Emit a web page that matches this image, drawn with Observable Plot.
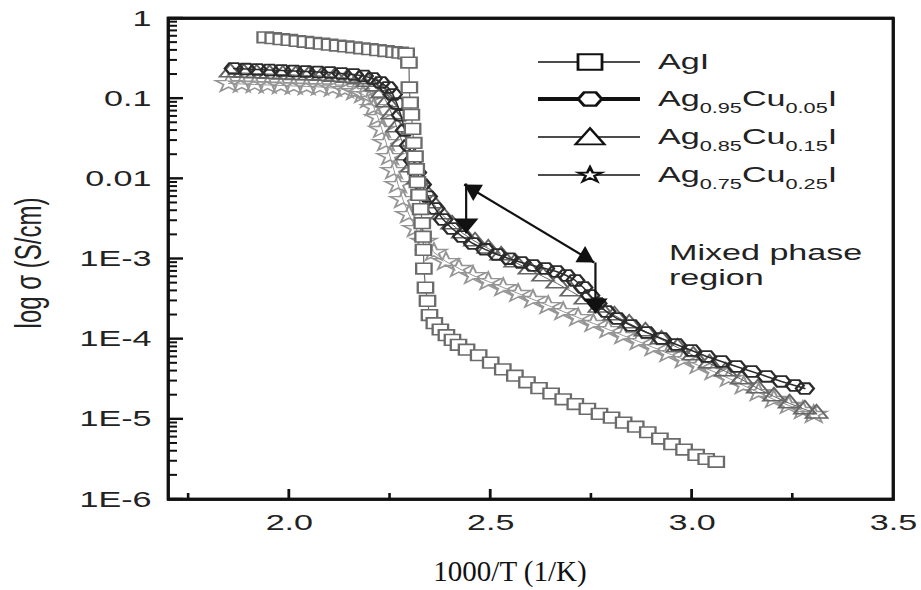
<!DOCTYPE html>
<html>
<head>
<meta charset="utf-8">
<script src="https://cdn.jsdelivr.net/npm/d3@7"></script>
<script src="https://cdn.jsdelivr.net/npm/@observablehq/plot@0.6"></script>
<style>
  html, body { margin: 0; padding: 0; background: #fff; }
  #chart { width: 921px; height: 590px; }
</style>
</head>
<body>
<div id="chart"></div>
<script>
// ---------------- data (x = 1000/T in 1/K, y = sigma in S/cm) ----------------
const seriesNames = ["AgI", "Ag0.95Cu0.05I", "Ag0.85Cu0.15I", "Ag0.75Cu0.25I"];

const agiX = [1.94,1.96,1.98,2.00,2.02,2.04,2.06,2.08,2.10,2.12,2.14,2.16,2.18,2.20,2.22,2.24,2.26,2.275,2.29,
  2.297,2.298,2.300,2.303,2.306,2.309,2.312,2.315,2.318,2.322,2.326,2.330,2.332,2.333,2.334,2.338,2.343,2.348,
  2.36,2.375,2.39,2.405,2.42,2.44,2.47,2.50,2.53,2.56,2.59,2.62,2.65,2.68,2.71,2.74,2.77,2.80,2.83,2.86,2.89,2.92,2.95,2.98,3.01,3.035,3.06];
const agiY = [0.582,0.568,0.552,0.540,0.524,0.512,0.498,0.485,0.472,0.460,0.448,0.437,0.425,0.414,0.403,0.393,0.382,0.374,0.366,
  0.282,0.138,0.089,0.063,0.042,0.028,0.019,0.0132,0.0091,0.0063,0.0042,0.0028,0.0019,0.0013,7.6e-4,4.4e-4,3.0e-4,2.0e-4,
  1.58e-4,1.32e-4,1.12e-4,9.8e-5,8.5e-5,7.4e-5,6.3e-5,5.1e-5,4.2e-5,3.5e-5,2.9e-5,2.45e-5,2.1e-5,1.78e-5,1.55e-5,1.35e-5,1.17e-5,1.05e-5,9.1e-6,8.1e-6,6.9e-6,5.75e-6,4.9e-6,4.2e-6,3.6e-6,3.2e-6,2.95e-6];

const cu05X = [1.862,1.892,1.921,1.951,1.981,2.011,2.041,2.071,2.101,2.130,2.160,2.185,2.207,2.227,2.245,2.257,2.267,2.277,2.287,2.297,
  2.307,2.317,2.329,2.344,2.362,2.382,2.404,2.429,2.456,2.486,2.516,2.546,2.576,2.605,2.635,2.663,2.688,2.710,2.730,2.747,
  2.765,2.787,2.814,2.849,2.887,2.924,2.961,2.999,3.036,3.073,3.110,3.148,3.185,3.222,3.255,3.280];
const cu05Y = [0.238,0.234,0.231,0.228,0.225,0.221,0.218,0.215,0.212,0.206,0.200,0.192,0.179,0.159,0.138,0.113,0.087,0.062,0.040,0.026,
  0.0169,0.0120,0.0085,0.0060,0.00426,0.00311,0.0024,0.00191,0.00156,0.00132,0.00114,0.00101,9.05e-4,8.3e-4,7.62e-4,6.99e-4,6.23e-4,5.4e-4,4.41e-4,3.51e-4,
  2.79e-4,2.21e-4,1.81e-4,1.48e-4,1.21e-4,1.02e-4,8.58e-5,7.23e-5,6.08e-5,5.27e-5,4.56e-5,3.95e-5,3.43e-5,2.97e-5,2.64e-5,2.42e-5];

const cu15X = [1.854,1.887,1.919,1.951,1.984,2.016,2.048,2.081,2.113,2.145,2.173,2.195,2.215,2.230,2.242,2.255,2.267,2.280,2.292,2.304,
  2.319,2.337,2.357,2.379,2.404,2.431,2.461,2.494,2.526,2.561,2.596,2.630,2.665,2.700,2.735,2.770,2.807,2.844,2.884,2.924,
  2.964,3.003,3.043,3.083,3.123,3.163,3.203,3.242,3.280,3.309];
const cu15Y = [0.212,0.209,0.206,0.203,0.200,0.197,0.1945,0.1918,0.1863,0.181,0.1734,0.1614,0.1418,0.116,0.0896,0.0635,0.0437,0.0292,0.01954,0.01386,
  0.00982,0.00695,0.00493,0.00359,0.0027,0.00208,0.00166,0.00135,0.001106,9.05e-4,7.4e-4,6.05e-4,4.95e-4,3.94e-4,3.13e-4,2.48e-4,1.98e-4,1.57e-4,1.25e-4,9.91e-5,
  7.87e-5,6.26e-5,4.98e-5,3.95e-5,3.14e-5,2.43e-5,1.93e-5,1.58e-5,1.33e-5,1.18e-5];

const cu25X = [1.849,1.882,1.914,1.946,1.979,2.011,2.043,2.076,2.108,2.138,2.163,2.183,2.198,2.210,2.220,2.230,2.240,2.250,2.260,2.270,
  2.282,2.297,2.314,2.334,2.359,2.389,2.421,2.456,2.494,2.531,2.568,2.605,2.643,2.680,2.717,2.755,2.792,2.829,2.867,2.904,
  2.941,2.979,3.016,3.053,3.091,3.128,3.165,3.203,3.240,3.275,3.302];
const cu25Y = [0.1546,0.1524,0.1503,0.1482,0.1459,0.1439,0.1419,0.140,0.1359,0.130,0.1228,0.1127,0.0977,0.0776,0.0582,0.0413,0.0284,0.019,0.0127,0.00849,
  0.00552,0.00359,0.0024,0.00166,0.00121,9.31e-4,7.62e-4,6.23e-4,5.24e-4,4.41e-4,3.72e-4,3.13e-4,2.63e-4,2.21e-4,1.86e-4,1.57e-4,1.32e-4,1.11e-4,9.35e-5,7.87e-5,
  6.63e-5,5.58e-5,4.7e-5,3.95e-5,3.24e-5,2.64e-5,2.16e-5,1.77e-5,1.49e-5,1.29e-5,1.15e-5];

// axis ticks
const yTickValues = [1e-6, 1e-5, 1e-4, 1e-3, 1e-2, 0.1, 1];
const yTickLabels = ["1E-6", "1E-5", "1E-4", "1E-3", "0.01", "0.1", "1"];
const xTickValues = [2.0, 2.5, 3.0, 3.5];
const xTickLabels = ["2.0", "2.5", "3.0", "3.5"];
const xMinorTicks = [1.75, 2.25, 2.75, 3.25];
const xDomain = [1.70, 3.5];
const yDomain = [1e-6, 1];

// annotation: arrows marking the mixed phase region (data coordinates)
const arrowX1 = [2.439, 2.434, 2.760];
const arrowY1 = [0.00875, 0.00851, 9.05e-4];
const arrowX2 = [2.439, 2.757, 2.760];
const arrowY2 = [0.00208, 9.05e-4, 2.09e-4];

// legend text parts: [text, isSubscript]
const legendParts = [
  [["AgI", 0]],
  [["Ag", 0], ["0.95", 1], ["Cu", 0], ["0.05", 1], ["I", 0]],
  [["Ag", 0], ["0.85", 1], ["Cu", 0], ["0.15", 1], ["I", 0]],
  [["Ag", 0], ["0.75", 1], ["Cu", 0], ["0.25", 1], ["I", 0]]
];
const annotationLines = ["Mixed phase", "region"];
const xTitle = "1000/T (1/K)";
const yTitle = "log σ (S/cm)";

// ---------------- build ----------------
const rows = [];
[[seriesNames[0], agiX, agiY], [seriesNames[1], cu05X, cu05Y], [seriesNames[2], cu15X, cu15Y], [seriesNames[3], cu25X, cu25Y]]
  .forEach(([name, xs, ys]) => xs.forEach((x, i) => rows.push({series: name, x, y: ys[i]})));

const hexSym = {draw(ctx, size) {
  const R = Math.sqrt(2 * size / (3 * Math.sqrt(3)));
  for (let k = 0; k < 6; k++) {
    const a = k * Math.PI / 3, px = R * Math.cos(a), py = R * Math.sin(a);
    if (k === 0) ctx.moveTo(px, py); else ctx.lineTo(px, py);
  }
  ctx.closePath();
}};

const styles = [
  {symbol: "square", r: 6, stroke: "#6b6b6b", fill: "white", sw: 1.6, lw: 1.2, legendW: 1.6},
  {symbol: hexSym, r: 5.6, stroke: "#2b2b2b", fill: "none", sw: 1.8, lw: 1.5, legendW: 4},
  {symbol: "triangle", r: 5.6, stroke: "#666666", fill: "none", sw: 1.5, lw: 1, legendW: 1.6},
  {symbol: "star", r: 5.6, stroke: "#959595", fill: "none", sw: 1.4, lw: 1, legendW: 1.6}
];
const drawOrder = [3, 2, 1, 0];

const W = 921, H = 590, mL = 168, mR = 28, mT = 18, mB = 91;

const yMinor = [];
for (let e = -6; e < 0; e++) for (let k = 2; k <= 9; k++) yMinor.push(k * Math.pow(10, e));

const marks = [];
drawOrder.forEach(k => {
  const data = rows.filter(d => d.series === seriesNames[k]);
  const st = styles[k];
  marks.push(Plot.line(data, {x: "x", y: "y", stroke: st.stroke, strokeWidth: st.lw}));
  marks.push(Plot.dot(data, {x: "x", y: "y", symbol: st.symbol, r: st.r, stroke: st.stroke, fill: st.fill, strokeWidth: st.sw, ariaDescription: "series-markers"}));
});

// arrows
const arrowIdx = [0, 1, 2];
marks.push(Plot.link(arrowIdx, {x1: i => arrowX1[i], y1: i => arrowY1[i], x2: i => arrowX2[i], y2: i => arrowY2[i], stroke: "#111", strokeWidth: 2.2}));
marks.push(Plot.dot([0, 2], {x: i => arrowX2[i], y: i => arrowY2[i], symbol: "triangle", r: 6.3, rotate: 180, dy: -10, fill: "#111", stroke: "none", ariaDescription: "down-heads"}));
marks.push(Plot.dot([1], {x: i => arrowX1[i], y: i => arrowY1[i], symbol: "triangle", r: 7, rotate: -59, dx: 9.3, dy: 5.6, fill: "#111", stroke: "none"}));
marks.push(Plot.dot([1], {x: i => arrowX2[i], y: i => arrowY2[i], symbol: "triangle", r: 7, rotate: 121, dx: -9.3, dy: -5.6, fill: "#111", stroke: "none"}));

// axes (labels only)
marks.push(Plot.axisY(yTickValues, {tickSize: 0, tickPadding: 17, fontSize: 22, label: null,
  tickFormat: d => yTickLabels[yTickValues.indexOf(d)]}));
marks.push(Plot.axisX(xTickValues, {tickSize: 0, tickPadding: 15, fontSize: 22, label: null,
  tickFormat: d => xTickLabels[xTickValues.indexOf(d)]}));
marks.push(Plot.frame({stroke: "#111", strokeWidth: 2.8}));

const svg = Plot.plot({
  width: W, height: H,
  marginLeft: mL, marginRight: mR, marginTop: mT, marginBottom: mB,
  x: {domain: xDomain},
  y: {type: "log", domain: yDomain},
  style: {fontFamily: "'Liberation Sans', Arial, sans-serif", fontSize: "22px", color: "#222", background: "white", overflow: "visible"},
  marks
});
document.getElementById("chart").appendChild(svg);

// horizontal stretch of text & markers (as in the reference)
const SX = 1.55;
svg.querySelectorAll('g[aria-label="y-axis tick label"] text, g[aria-label="x-axis tick label"] text').forEach(t => {
  t.setAttribute("transform", (t.getAttribute("transform") || "") + ` scale(${SX},1)`);
});
svg.querySelectorAll('g[aria-description="series-markers"] path, g[aria-description="down-heads"] path').forEach(p => {
  p.setAttribute("transform", (p.getAttribute("transform") || "") + " scale(1.45,1)");
});

const s = d3.select(svg);

// frame box and inner ticks, positioned through Plot's own scales
const xs = svg.scale("x"), ys = svg.scale("y");
const fx0 = xs.apply(xDomain[0]), fx1 = xs.apply(xDomain[1]);
const fy0 = ys.apply(yDomain[1]), fy1 = ys.apply(yDomain[0]);
const ax = s.append("g").attr("stroke", "#111").attr("fill", "none");
yTickValues.forEach(v => ax.append("line").attr("x1", fx0).attr("x2", fx0 + 15).attr("y1", ys.apply(v)).attr("y2", ys.apply(v)).attr("stroke-width", 2.4));
yMinor.forEach(v => ax.append("line").attr("x1", fx0).attr("x2", fx0 + 9).attr("y1", ys.apply(v)).attr("y2", ys.apply(v)).attr("stroke-width", 2));
xTickValues.slice(0, 3).forEach(v => ax.append("line").attr("x1", xs.apply(v)).attr("x2", xs.apply(v)).attr("y1", fy1).attr("y2", fy1 - 10).attr("stroke-width", 2.8));
xMinorTicks.forEach(v => ax.append("line").attr("x1", xs.apply(v)).attr("x2", xs.apply(v)).attr("y1", fy1).attr("y2", fy1 - 6).attr("stroke-width", 2.6));
ax.append("rect").attr("x", fx0).attr("y", fy0).attr("width", fx1 - fx0).attr("height", fy1 - fy0).attr("stroke-width", 2.8);

// overlay: legend, annotation text and titles
const legendRowY = [62, 99, 137, 175];
const legendSymbols = [d3.symbolSquare, null, d3.symbolTriangle, d3.symbolStar];
const legendSizes = [240, 150, 150, 70];
const lg = s.append("g").attr("font-family", "'Liberation Sans', Arial, sans-serif").attr("fill", "#222").attr("text-anchor", "start");
legendParts.forEach((parts, i) => {
  const cy = legendRowY[i];
  lg.append("line").attr("x1", 538).attr("x2", 640).attr("y1", cy).attr("y2", cy)
    .attr("stroke", "#111").attr("stroke-width", styles[i].legendW);
  const pathD = legendSymbols[i] ? d3.symbol(legendSymbols[i], legendSizes[i])() : (() => {
    const p = d3.path(); hexSym.draw(p, legendSizes[i]); return p.toString(); })();
  lg.append("path").attr("d", pathD)
    .attr("transform", `translate(590,${i === 2 ? cy + 2 : cy}) scale(${SX},1)`)
    .attr("fill", "white").attr("stroke", "#111").attr("stroke-width", i === 1 ? 2.2 : 1.8);
  const t = lg.append("text").attr("text-anchor", "start").attr("transform", `translate(658,${cy + 7}) scale(${SX},1)`).attr("font-size", 22);
  let shifted = false;
  parts.forEach(([txt, sub]) => {
    const ts = t.append("tspan").text(txt);
    if (sub && !shifted) { ts.attr("dy", 7).attr("font-size", 14); shifted = true; }
    else if (sub) { ts.attr("font-size", 14); }
    else if (shifted) { ts.attr("dy", -7); shifted = false; }
  });
});

annotationLines.forEach((line, i) => {
  s.append("text").attr("text-anchor", "start").attr("transform", `translate(669,${260 + i * 25}) scale(${SX},1)`)
    .attr("font-family", "'Liberation Sans', Arial, sans-serif").attr("font-size", 22).attr("fill", "#222").text(line);
});

s.append("text").attr("transform", `translate(41,263) scale(${SX},1) rotate(-90)`)
  .attr("text-anchor", "middle").attr("font-family", "'Liberation Sans', Arial, sans-serif")
  .attr("font-size", 24).attr("fill", "#222").text(yTitle);

s.append("text").attr("transform", "translate(510,581)").attr("text-anchor", "middle")
  .attr("font-family", "'Liberation Serif', 'Times New Roman', serif").attr("font-size", 29)
  .attr("fill", "#111").text(xTitle);
</script>
</body>
</html>
